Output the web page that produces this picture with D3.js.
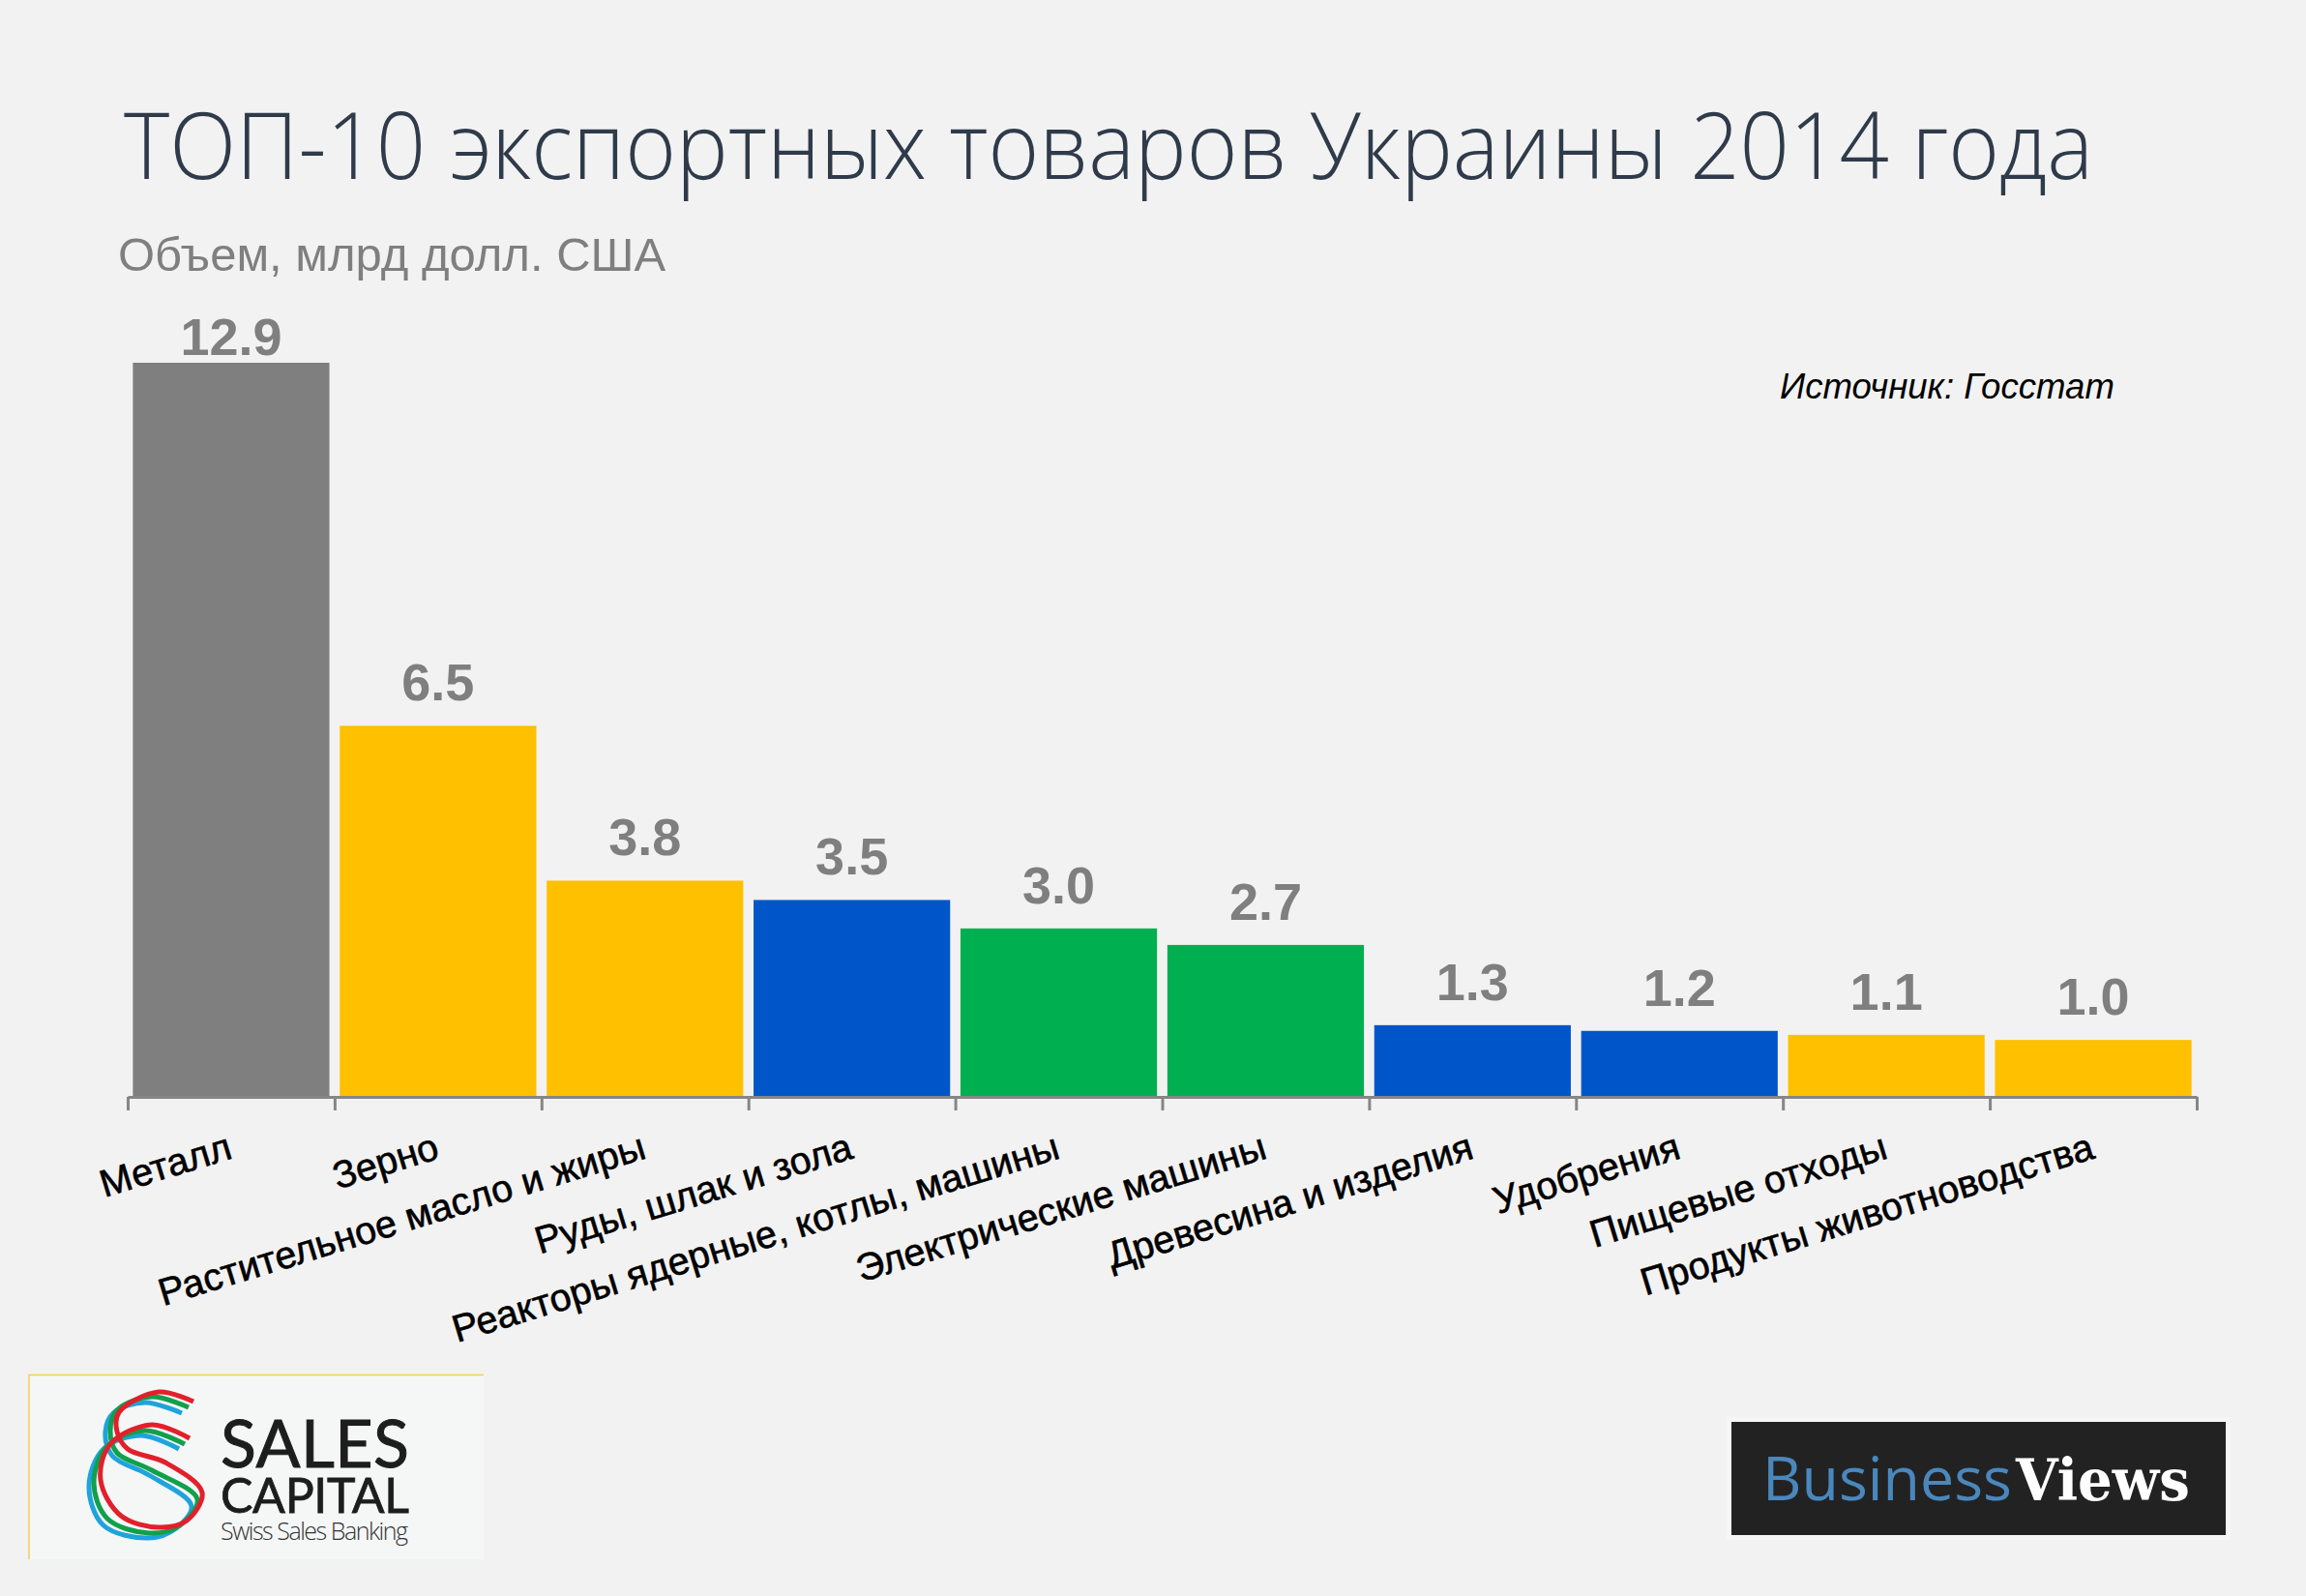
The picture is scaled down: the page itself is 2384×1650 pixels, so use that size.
<!DOCTYPE html>
<html>
<head>
<meta charset="utf-8">
<script src="https://d3js.org/d3.v7.min.js"></script>
<style>
    html, body { margin: 0; padding: 0; background: #f2f2f2; }
    svg { display: block; }
</style>
</head>
<body>
<svg id="chart"></svg>
<script>
//chart values
var categories = ["Металл", "Зерно", "Растительное масло и жиры", "Руды, шлак и зола", "Реакторы ядерные, котлы, машины",
    "Электрические машины", "Древесина и изделия", "Удобрения", "Пищевые отходы", "Продукты животноводства"];
var values = [12.9, 6.52, 3.8, 3.46, 2.96, 2.67, 1.26, 1.16, 1.09, 1.0];
var barColors = ["#7f7f7f", "#ffc000", "#ffc000", "#0056c9", "#00b050", "#00b050", "#0056c9", "#0056c9", "#ffc000", "#ffc000"];

//logo strands, the three lines of the S
var redStrand = [[200,1449],[164,1439],[123,1460],[121,1480],[132,1498],[171,1512],[209,1543],[193,1572],[164,1579],[125,1567],[104,1530],[114,1493],[157,1473],[196,1487]];
var greenStrand = [[195,1455],[157,1444],[121,1458],[114,1480],[121,1502],[157,1520],[204,1550],[186,1577],[154,1585],[111,1570],[97,1533],[111,1495],[150,1479],[191,1493]];
var blueStrand = [[188,1461],[150,1450],[118,1460],[109,1480],[116,1505],[154,1525],[198,1557],[182,1580],[154,1590],[107,1577],[92,1537],[107,1498],[146,1484],[185,1498]];

function runScript () {

    //size of the page and the plot
    var width = 2384;
    var height = 1650;
    var axisY = 1134;
    var topY = 375;
    var plotLeft = 132;
    var plotRight = 2271;

    var svg = d3.select("#chart")
        .attr("width", width)
        .attr("height", height);

    svg.append("rect")
        .attr("width", width)
        .attr("height", height)
        .attr("fill", "#f2f2f2");

    var x = d3.scaleBand()
        .domain(categories)
        .range([plotLeft, plotRight])
        .paddingInner(0.05)
        .paddingOuter(0.025);

    var y = d3.scaleLinear()
        .domain([0, 12.9])
        .range([axisY, topY]);

    //title block
    svg.append("text")
        .attr("x", 128)
        .attr("y", 185)
        .attr("font-family", "'Open Sans'")
        .attr("font-weight", 300)
        .attr("font-size", 96)
        .attr("fill", "#2f3b4a")
        .attr("textLength", 2036)
        .attr("lengthAdjust", "spacingAndGlyphs")
        .text("ТОП-10 экспортных товаров Украины 2014 года");

    svg.append("text")
        .attr("x", 122)
        .attr("y", 280)
        .attr("font-family", "'Liberation Sans'")
        .attr("font-size", 49)
        .attr("fill", "#7f7f7f")
        .text("Объем, млрд долл. США");

    svg.append("text")
        .attr("x", 1840)
        .attr("y", 412)
        .attr("font-family", "'Liberation Sans'")
        .attr("font-style", "italic")
        .attr("font-size", 36.6)
        .attr("fill", "#000")
        .text("Источник: Госстат");

    //bars
    svg.selectAll(".bar")
        .data(values)
        .enter().append("rect")
        .attr("class", "bar")
        .attr("x", function (d, i) { return x(categories[i]); })
        .attr("y", function (d) { return y(d); })
        .attr("width", x.bandwidth())
        .attr("height", function (d) { return axisY - y(d); })
        .attr("fill", function (d, i) { return barColors[i]; });

    //value labels, the tallest one is squeezed against its bar
    svg.selectAll(".value")
        .data(values)
        .enter().append("text")
        .attr("class", "value")
        .attr("x", function (d, i) { return x(categories[i]) + x.bandwidth() / 2; })
        .attr("y", function (d) { return Math.max(y(d) - 26, 367); })
        .attr("text-anchor", "middle")
        .attr("font-family", "'Liberation Sans'")
        .attr("font-weight", "bold")
        .attr("font-size", 54)
        .attr("fill", "#7f7f7f")
        .text(d3.format(".1f"));

    //axis with ticks between the bars
    var edges = d3.range(categories.length + 1).map(function (i) { return plotLeft + i * x.step(); });
    var edgeScale = d3.scaleIdentity().domain([plotLeft, plotRight]);
    var axis = svg.append("g")
        .attr("transform", "translate(0," + axisY + ")")
        .call(d3.axisBottom(edgeScale).tickValues(edges).tickSize(14).tickSizeOuter(0).tickFormat(""));
    axis.selectAll("path, line")
        .attr("stroke", "#868686")
        .attr("stroke-width", 3);

    //category labels
    svg.selectAll(".cat")
        .data(categories)
        .enter().append("text")
        .attr("class", "cat")
        .attr("transform", function (d) {
            return "translate(" + (x(d) + x.bandwidth() / 2 + 3) + ",1197) rotate(-17)";
        })
        .attr("text-anchor", "end")
        .attr("font-family", "'Liberation Sans'")
        .attr("font-size", 39.6)
        .attr("fill", "#000")
        .attr("stroke", "#000")
        .attr("stroke-width", 0.6)
        .text(function (d) { return d; });

    drawSalesLogo(svg);
    drawViewsLogo(svg);
}

function drawSalesLogo (svg) {
    svg.append("rect")
        .attr("x", 30)
        .attr("y", 1421)
        .attr("width", 470)
        .attr("height", 191)
        .attr("fill", "#f5f7f7");
    svg.append("path")
        .attr("d", "M30,1612 V1421.5 H500")
        .attr("fill", "none")
        .attr("stroke", "#f2cf55")
        .attr("stroke-width", 1.5);

    var strand = d3.line().curve(d3.curveCatmullRom.alpha(0.5));
    [[blueStrand, "#1fa3dc"], [greenStrand, "#11a04b"], [redStrand, "#e2202c"]].forEach(function (s) {
        svg.append("path")
            .attr("d", strand(s[0]))
            .attr("fill", "none")
            .attr("stroke", s[1])
            .attr("stroke-width", 5);
    });

    svg.append("text")
        .attr("x", 228)
        .attr("y", 1517)
        .attr("font-family", "Lato")
        .attr("font-size", 68)
        .attr("fill", "#1d1d1d")
        .attr("stroke", "#1d1d1d")
        .attr("stroke-width", 1)
        .attr("textLength", 195)
        .text("SALES");
    svg.append("text")
        .attr("x", 228)
        .attr("y", 1564)
        .attr("font-family", "Lato")
        .attr("font-size", 50)
        .attr("fill", "#1d1d1d")
        .attr("stroke", "#1d1d1d")
        .attr("stroke-width", 0.8)
        .attr("textLength", 195)
        .text("CAPITAL");
    svg.append("text")
        .attr("x", 228)
        .attr("y", 1592)
        .attr("font-family", "'Open Sans'")
        .attr("font-weight", 300)
        .attr("font-size", 25)
        .attr("fill", "#333")
        .attr("textLength", 194)
        .text("Swiss Sales Banking");
}

function drawViewsLogo (svg) {
    svg.append("rect")
        .attr("x", 1785)
        .attr("y", 1465)
        .attr("width", 521)
        .attr("height", 127)
        .attr("fill", "#f6f6f6");
    svg.append("rect")
        .attr("x", 1790)
        .attr("y", 1470)
        .attr("width", 511)
        .attr("height", 117)
        .attr("fill", "#222222");
    svg.append("text")
        .attr("x", 1822)
        .attr("y", 1551)
        .attr("font-family", "'Open Sans'")
        .attr("font-size", 62)
        .attr("fill", "#4a87bd")
        .attr("textLength", 258)
        .attr("lengthAdjust", "spacingAndGlyphs")
        .text("Business");
    svg.append("text")
        .attr("x", 2084)
        .attr("y", 1551)
        .attr("font-family", "'DejaVu Serif'")
        .attr("font-weight", "bold")
        .attr("font-size", 60)
        .attr("fill", "#ffffff")
        .attr("textLength", 180)
        .attr("lengthAdjust", "spacingAndGlyphs")
        .text("Views");
}

window.onload = runScript;
</script>
</body>
</html>
